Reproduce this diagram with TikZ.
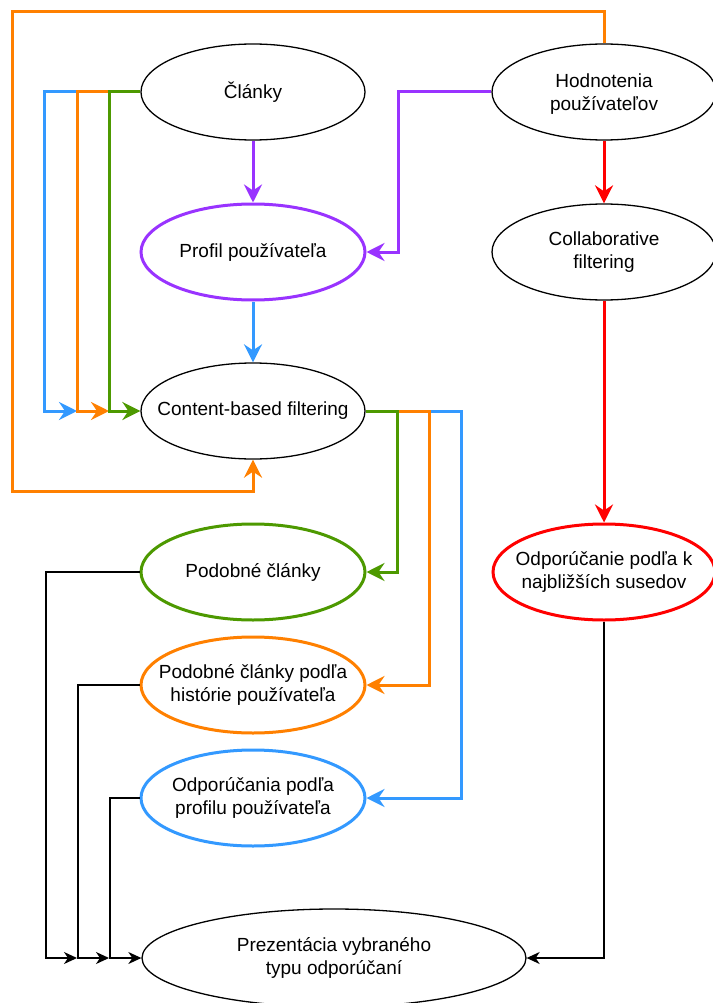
\documentclass[tikz,border=0pt]{standalone}
\usepackage{fontspec}
\setmainfont{Liberation Sans}
\usetikzlibrary{shapes.geometric,arrows.meta}

\definecolor{cOrange}{HTML}{FF8000}
\definecolor{cBlue}{HTML}{3399FF}
\definecolor{cGreen}{HTML}{4D9900}
\definecolor{cPurple}{HTML}{9933FF}
\definecolor{cRed}{HTML}{FF0000}

\begin{document}
\begin{tikzpicture}[x=1pt,y=-1pt,
  ell/.style={ellipse, draw=black, line width=1.3pt, fill=white,
              minimum width=224pt, minimum height=96pt, inner sep=0pt},
  cell/.style={ell, line width=3pt},
  txt/.style={align=center, font=\fontsize{19}{23}\selectfont, inner sep=0pt},
  cedge/.style={line width=3pt, line join=miter,
                -{Stealth[length=18pt,width=18pt,inset=6pt]}},
  bedge/.style={line width=1.3pt,
                -{Stealth[length=13pt,width=12pt,inset=4pt]}},
]
\useasboundingbox (0,0) rectangle (712,1003);

% nodes
\node[ell] (clanky) at (253,92) {};
\node[txt] (clanky-t) at (clanky.center) {Články};
\node[ell] (hod) at (604,92) {};
\node[txt] (hod-t) at ([yshift=-2pt]hod.center) {Hodnotenia\\používateľov};
\node[cell, draw=cPurple] (prof) at (253,252) {};
\node[txt] (prof-t) at (prof.center) {Profil používateľa};
\node[ell] (collab) at (604,252) {};
\node[txt] (collab-t) at (collab.center) {Collaborative\\filtering};
\node[ell] (cbf) at (253,411) {};
\node[txt] (cbf-t) at (cbf.center) {Content-based filtering};
\node[cell, draw=cGreen] (pod) at (253,572) {};
\node[txt] (pod-t) at (pod.center) {Podobné články};
\node[cell, draw=cRed, minimum width=222pt] (knn) at (604,572) {};
\node[txt] (knn-t) at (knn.center) {Odporúčanie podľa k\\najbližších susedov};
\node[cell, draw=cOrange] (his) at (253,685) {};
\node[txt] (his-t) at (his.center) {Podobné články podľa\\histórie používateľa};
\node[cell, draw=cBlue] (rec) at (253,798) {};
\node[txt] (rec-t) at (rec.center) {Odporúčania podľa\\profilu používateľa};
\node[ell, minimum width=384pt, minimum height=98pt] (prez) at (334,958) {};
\node[txt] (prez-t) at (prez.center) {Prezentácia vybraného\\typu odporúčaní};

% junction points on the shared feeder lines
\coordinate (inB) at (77,411);
\coordinate (inO) at (109,411);
\coordinate (outA) at (77,958);
\coordinate (outB) at (109,958);

% user ratings feed back into content-based filtering
\draw[cedge, cOrange] (hod.north) |- (12,12) -- (12,491) -| (cbf.south);

% purple: building the user profile
\draw[cedge, cPurple] (hod.west) -| (398,252) -- (prof.east);
\draw[cedge, cPurple] (clanky.south) -- (prof.north);
\draw[cedge, cBlue] (prof.south) -- (cbf.north);

% articles into content-based filtering
\draw[cedge, cBlue] (clanky.west) -| (44,411) -- (inB);
\draw[cedge, cOrange] (clanky.west) -| (77,411) -- (inO);
\draw[cedge, cGreen] (clanky.west) -| (109,411) -- (cbf.west);

% content-based outputs
\draw[cedge, cBlue] (cbf.east) -| (461,798) -- (rec.east);
\draw[cedge, cOrange] (cbf.east) -| (429,685) -- (his.east);
\draw[cedge, cGreen] (cbf.east) -| (397,572) -- (pod.east);

% collaborative branch
\draw[cedge, cRed] (hod.south) -- (collab.north);
\draw[cedge, cRed] (collab.south) -- (knn.north);

% presentation
\draw[bedge] (knn.south) |- (prez.east);
\draw[bedge] (pod.west) -| (46,958) -- (outA);
\draw[bedge] (his.west) -| (78,958) -- (outB);
\draw[bedge] (rec.west) -| (110,958) -- (prez.west);
\end{tikzpicture}
\end{document}
